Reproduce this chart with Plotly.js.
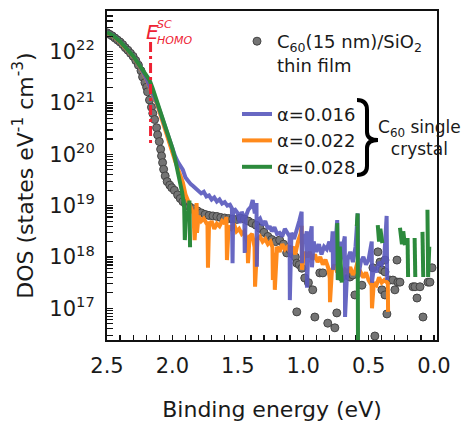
<!DOCTYPE html>
<html>
<head>
<meta charset="utf-8">
<script src="https://cdn.plot.ly/plotly-3.0.1.min.js"></script>
<style>html,body{margin:0;padding:0;background:#fff;}#chart{width:462px;height:422px;}</style>
</head>
<body>
<div id="chart"></div>
<script>
// ---- Data (binding energy in eV, DOS stored as log10 of states eV^-1 cm^-3) ----
const filmEnergy = [2.50,2.48,2.46,2.44,2.42,2.40,2.38,2.36,2.34,2.32,2.30,2.28,2.26,2.24,2.228,2.21,2.197,2.19,2.175,2.16,2.15,2.136,2.121,2.113,2.10,2.09,2.083,2.075,2.067,2.055,2.04,2.02,2.005,1.985,1.96,1.94,1.92,1.90,1.87,1.84,1.81,1.78,1.75,1.72,1.69,1.66,1.63,1.60,1.57,1.54,1.51,1.48,1.45,1.42,1.39,1.36,1.33,1.30,1.27,1.24,1.21,1.18,1.15,1.126,1.10,1.08,1.06,1.049,1.049,1.03,1.01,0.988,0.96,0.927,0.911,0.873,0.850,0.812,0.758,0.743,0.704,0.643,0.620,0.605,0.551,0.467,0.452,0.429,0.413,0.398,0.398,0.375,0.375,0.375,0.360,0.337,0.314,0.299,0.283,0.276,0.260,0.161,0.145,0.130,0.107,0.084,0.046,0.031,0.015];
const filmLogDOS = [22.37,22.34,22.31,22.27,22.23,22.19,22.14,22.08,22.03,21.97,21.91,21.83,21.74,21.63,21.51,21.40,21.31,21.22,21.06,20.92,20.80,20.68,20.52,20.38,20.25,20.10,19.97,19.84,19.71,19.58,19.47,19.40,19.35,19.30,19.21,19.14,19.08,19.04,18.98,18.94,18.90,18.86,18.83,18.81,18.80,18.79,18.77,18.76,18.75,18.74,18.73,18.76,18.74,18.70,18.66,18.62,18.56,18.48,18.40,18.34,18.30,18.33,18.25,18.08,18.14,18.06,18.00,17.88,16.93,17.85,17.78,17.59,17.50,17.36,16.83,17.69,17.69,16.71,16.62,16.91,17.61,17.61,17.65,17.26,17.45,17.79,16.46,18.10,17.90,17.75,17.36,17.71,17.94,17.26,16.89,17.55,17.55,17.36,17.94,17.51,17.51,17.42,17.42,17.20,17.42,16.83,17.51,17.51,17.79];

const crystal016Energy = [2.50,2.45,2.40,2.35,2.30,2.25,2.20,2.15,2.12,2.09,2.06,2.03,2.00,1.98,1.96,1.94,1.92,1.90,1.88,1.86,1.84,1.82,1.80,1.78,1.76,1.74,1.72,1.70,1.68,1.66,1.64,1.62,1.60,1.58,1.56,1.545,1.54,1.535,1.52,1.50,1.485,1.47,1.45,1.447,1.44,1.42,1.40,1.386,1.37,1.357,1.354,1.35,1.33,1.31,1.29,1.27,1.256,1.24,1.22,1.20,1.18,1.16,1.14,1.12,1.104,1.102,1.09,1.07,1.05,1.03,1.012,1.010,1.00,0.985,0.973,0.971,0.96,0.945,0.935,0.933,0.92,0.90,0.88,0.86,0.84,0.82,0.80,0.785,0.775,0.772,0.76,0.74,0.735,0.72,0.718,0.70,0.682,0.680,0.66,0.64,0.62,0.60,0.583,0.580,0.56,0.54,0.52,0.50,0.476,0.474,0.46,0.44,0.42,0.40,0.38,0.362,0.358];
const crystal016LogDOS = [22.38,22.31,22.20,22.07,21.92,21.73,21.48,21.18,21.02,20.80,20.56,20.34,20.10,19.97,19.86,19.78,19.70,19.55,19.48,19.42,19.38,19.33,19.30,19.24,19.27,19.18,19.20,19.12,19.16,19.08,19.12,19.04,19.07,19.00,19.02,18.95,17.88,18.90,18.92,18.85,18.66,18.88,18.75,18.08,18.78,18.92,18.98,19.11,18.85,19.05,17.81,18.70,18.75,18.62,18.70,18.55,18.60,18.50,18.58,18.45,18.47,18.40,18.55,18.45,18.40,17.16,18.47,18.35,18.50,18.70,18.88,17.88,18.45,18.30,18.50,17.40,18.20,18.45,18.60,17.80,18.30,18.10,18.25,18.05,18.20,18.15,18.30,18.10,18.50,17.75,18.00,18.72,17.55,18.30,17.88,18.15,18.40,16.83,17.95,18.10,17.90,18.20,18.85,17.60,17.90,18.00,17.85,17.95,18.30,17.50,17.80,17.70,17.90,17.85,18.00,18.80,17.55];

const crystal022Energy = [2.50,2.45,2.40,2.35,2.30,2.25,2.20,2.15,2.12,2.09,2.06,2.03,2.00,1.98,1.96,1.94,1.92,1.90,1.88,1.86,1.84,1.83,1.82,1.815,1.812,1.80,1.78,1.76,1.74,1.732,1.728,1.72,1.70,1.68,1.66,1.64,1.62,1.60,1.587,1.583,1.57,1.55,1.53,1.51,1.49,1.47,1.45,1.426,1.422,1.41,1.39,1.372,1.368,1.35,1.33,1.31,1.29,1.27,1.25,1.235,1.232,1.22,1.217,1.20,1.18,1.16,1.14,1.12,1.10,1.08,1.06,1.04,1.02,1.012,1.009,0.99,0.97,0.95,0.93,0.91,0.89,0.87,0.85,0.83,0.81,0.797,0.795,0.78,0.76,0.74,0.72,0.70,0.68,0.66,0.64,0.62,0.60,0.583,0.581,0.56,0.54,0.52,0.50,0.477,0.474,0.46,0.44,0.42,0.40,0.38,0.353,0.351];
const crystal022LogDOS = [22.37,22.30,22.19,22.06,21.91,21.72,21.47,21.16,21.00,20.76,20.50,20.27,20.04,19.88,19.74,19.58,19.45,19.22,19.08,18.95,18.85,18.33,18.90,19.05,18.47,18.80,18.70,18.75,18.66,18.66,17.79,18.60,18.70,18.55,18.65,18.60,18.70,18.65,18.78,17.94,18.60,18.55,18.65,18.50,18.55,18.45,18.50,18.27,17.88,18.40,18.45,18.19,17.42,18.35,18.40,18.30,18.35,18.25,18.30,18.19,17.55,18.08,17.36,18.20,18.10,18.25,18.15,18.20,18.10,18.20,18.05,18.30,18.45,18.61,17.75,18.10,18.00,18.10,17.95,18.05,17.90,18.00,17.85,17.95,17.80,17.59,17.12,17.75,17.85,17.70,17.80,17.65,17.75,17.70,17.80,17.65,17.75,17.91,17.62,17.70,17.60,17.70,17.55,17.45,17.00,17.50,17.45,17.60,17.50,17.55,17.49,16.93];

const crystal028Energy = [2.50,2.45,2.40,2.35,2.30,2.25,2.20,2.175,2.15,2.121,2.10,2.075,2.05,2.021,2.00,1.983,1.96,1.945,1.925,1.91,1.905,1.895,1.88,1.870,1.865,null,0.740,0.735,0.720,0.705,null,0.590,0.584,0.580,null,0.430,0.420,0.410,0.395,null,0.260,0.245,0.235,0.222,null,0.202,0.198,null,0.148,0.143,null,0.088,0.082,null,0.050,0.045,0.036];
const crystal028LogDOS = [22.38,22.31,22.20,22.07,21.92,21.73,21.55,21.45,21.28,21.06,20.88,20.67,20.46,20.28,20.12,19.95,19.70,19.50,19.25,18.98,18.33,18.90,18.80,19.10,18.19,null,18.66,17.55,18.20,17.50,null,18.60,18.85,15.50,null,18.62,18.30,18.55,18.27,null,18.57,18.25,18.50,18.23,null,18.37,17.61,null,18.37,17.61,null,18.49,17.61,null,18.92,17.61,18.20];

const homoEnergy = [2.167, 2.167];
const homoLogDOS = [22.19, 20.18];

const legendNames = [
  'C<sub>60</sub>(15 nm)/SiO<sub>2</sub><br>thin film',
  '\u03b1=0.016', '\u03b1=0.022', '\u03b1=0.028'
];
const xTickValues = [2.5, 2.0, 1.5, 1.0, 0.5, 0.0];
const xTickLabels = ['2.5', '2.0', '1.5', '1.0', '0.5', '0.0'];
const yTickValues = [1e17, 1e18, 1e19, 1e20, 1e21, 1e22];
const yTickLabels = ['10<sup>17</sup>', '10<sup>18</sup>', '10<sup>19</sup>', '10<sup>20</sup>', '10<sup>21</sup>', '10<sup>22</sup>'];

const toDOS = arr => arr.map(v => v === null ? null : Math.pow(10, v));

// minor tick positions (axis furniture, not data)
const xMinor = [];
for (let k = 0; k <= 25; k++) xMinor.push(+(k * 0.1).toFixed(1));
const yMinor = [];
for (let d = 16; d <= 22; d++) for (let m = 1; m <= 9; m++) yMinor.push(m * Math.pow(10, d));

const FONT = 'DejaVu Sans, Verdana, sans-serif';
const INK = '#1a1a1a';
const BLUE = 'rgba(88,88,188,0.9)';
const ORANGE = '#ff8a1c';
const GREEN = '#2c8a3c';
const RED = '#ee2233';

const traces = [
  {x: filmEnergy, y: toDOS(filmLogDOS), type: 'scatter', mode: 'markers', name: legendNames[0],
   marker: {size: 8, color: '#747474', line: {color: '#444', width: 1}}, legendrank: 1, legendgroup: 'film'},
  {x: crystal022Energy, y: toDOS(crystal022LogDOS), type: 'scatter', mode: 'lines', name: legendNames[2],
   line: {color: ORANGE, width: 4}, connectgaps: false, legendrank: 3, legendgroup: 'xtal'},
  {x: crystal016Energy, y: toDOS(crystal016LogDOS), type: 'scatter', mode: 'lines', name: legendNames[1],
   line: {color: BLUE, width: 4}, connectgaps: false, legendrank: 2, legendgroup: 'xtal'},
  {x: crystal028Energy, y: toDOS(crystal028LogDOS), type: 'scatter', mode: 'lines', name: legendNames[3],
   line: {color: GREEN, width: 4}, connectgaps: false, legendrank: 4, legendgroup: 'xtal'},
  {x: homoEnergy, y: toDOS(homoLogDOS), type: 'scatter', mode: 'lines', showlegend: false,
   line: {color: RED, width: 3, dash: '10px,4px,3px,4px'}}
];

const P = (px) => (px - 107) / 330;   // paper x of decorations
const Q = (py) => (340 - py) / 329;   // paper y of decorations

const bracePath = 'M' + P(357) + ',' + Q(100) +
  ' Q' + P(367) + ',' + Q(100) + ' ' + P(367) + ',' + Q(110) +
  ' L' + P(367) + ',' + Q(132) +
  ' Q' + P(367) + ',' + Q(140) + ' ' + P(378) + ',' + Q(140) +
  ' Q' + P(367) + ',' + Q(140) + ' ' + P(367) + ',' + Q(148) +
  ' L' + P(367) + ',' + Q(166) +
  ' Q' + P(367) + ',' + Q(175) + ' ' + P(357) + ',' + Q(175);

const X_RANGE = [2.5, -0.023];
const Y_RANGE = [16.382, 22.795];

const layout = {
  width: 462, height: 422,
  margin: {l: 107, r: 25, t: 11, b: 82},
  paper_bgcolor: '#fff', plot_bgcolor: '#fff',
  font: {family: FONT, color: INK},
  showlegend: true,
  legend: {x: P(237), y: Q(23), xanchor: 'left', yanchor: 'top', bgcolor: 'rgba(0,0,0,0)',
           font: {family: FONT, size: 18, color: INK}, traceorder: 'grouped',
           tracegroupgap: 23, valign: 'top'},
  xaxis: {range: X_RANGE, tickmode: 'array', tickvals: xMinor,
          ticktext: xMinor.map(v => { const i = xTickValues.indexOf(v); return i >= 0 ? xTickLabels[i] : ''; }),
          ticks: 'inside', ticklen: 5, tickwidth: 1.3, tickcolor: '#111',
          showline: true, linewidth: 2, linecolor: '#111', mirror: true, showgrid: false, zeroline: false,
          tickfont: {family: FONT, size: 21, color: INK}, ticklabelstandoff: 6,
          title: {text: 'Binding energy (eV)', font: {family: FONT, size: 22, color: INK}, standoff: 24}},
  xaxis2: {overlaying: 'x', anchor: 'y', side: 'bottom', range: X_RANGE, tickmode: 'array', tickvals: xTickValues,
           ticks: 'inside', ticklen: 11, tickwidth: 1.5, tickcolor: '#111', showticklabels: false,
           showline: false, showgrid: false, zeroline: false},
  yaxis: {type: 'log', range: Y_RANGE, tickmode: 'array', tickvals: yMinor,
          ticktext: yMinor.map(v => { const i = yTickValues.indexOf(v); return i >= 0 ? yTickLabels[i] : ''; }),
          ticks: 'inside', ticklen: 6, tickwidth: 1.2, tickcolor: '#111',
          showline: true, linewidth: 2, linecolor: '#111', mirror: true, showgrid: false, zeroline: false,
          tickfont: {family: FONT, size: 21, color: INK}, ticklabelstandoff: 6,
          title: {text: 'DOS (states eV<sup>-1</sup> cm<sup>-3</sup>)', font: {family: FONT, size: 22, color: INK}, standoff: 10}},
  yaxis2: {overlaying: 'y', anchor: 'x', side: 'left', type: 'log', range: Y_RANGE, tickmode: 'array', tickvals: yTickValues,
           ticks: 'inside', ticklen: 12, tickwidth: 1.5, tickcolor: '#111', showticklabels: false,
           showline: false, showgrid: false, zeroline: false},
  shapes: [
    {type: 'path', xref: 'paper', yref: 'paper', path: bracePath, line: {color: '#000', width: 4}}
  ],
  annotations: [
    {xref: 'paper', yref: 'paper', x: P(152), y: Q(32), xanchor: 'center', yanchor: 'middle', text: '<i>E</i>', showarrow: false,
     font: {family: FONT, size: 20, color: RED}},
    {xref: 'paper', yref: 'paper', x: P(164), y: Q(25), xanchor: 'center', yanchor: 'middle', text: '<i>SC</i>', showarrow: false,
     font: {family: FONT, size: 11, color: RED}},
    {xref: 'paper', yref: 'paper', x: P(174), y: Q(41), xanchor: 'center', yanchor: 'middle', text: '<i>HOMO</i>', showarrow: false,
     font: {family: FONT, size: 11, color: RED}},
    {xref: 'paper', yref: 'paper', x: P(419), y: Q(138), xanchor: 'center', yanchor: 'middle', text: 'C<sub>60</sub> single<br>crystal', showarrow: false,
     align: 'center', font: {family: FONT, size: 17, color: INK}}
  ]
};

Plotly.newPlot('chart', traces, layout, {staticPlot: true, displayModeBar: false});
</script>
</body>
</html>
